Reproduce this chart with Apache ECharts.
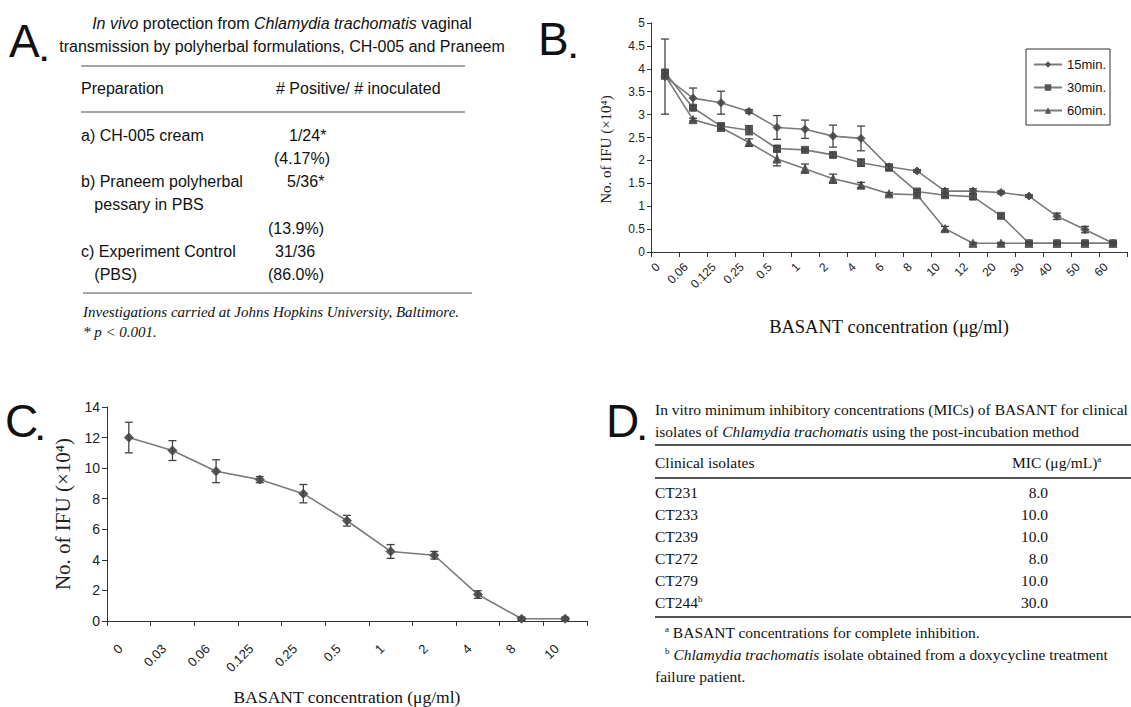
<!DOCTYPE html>
<html>
<head>
<meta charset="utf-8">
<script src="https://cdn.jsdelivr.net/npm/echarts@6/dist/echarts.min.js"></script>
<style>
html,body{margin:0;padding:0;background:#fff;}
#main{width:1131px;height:707px;}
</style>
</head>
<body>
<div id="main"></div>
<script>
// ---------- Panel B data ----------
const bCategories = ['0','0.06','0.125','0.25','0.5','1','2','4','6','8','10','12','20','30','40','50','60'];
const b15 = [3.83,3.36,3.26,3.07,2.72,2.68,2.53,2.48,1.86,1.77,1.33,1.33,1.30,1.22,0.78,0.49,0.19];
const b15err = [0.82,0.22,0.25,0.04,0.26,0.20,0.24,0.27,0.06,0.03,0.05,0.05,0.03,0.03,0.07,0.07,0.03];
const b30 = [3.92,3.15,2.75,2.66,2.26,2.23,2.12,1.95,1.84,1.32,1.24,1.21,0.79,0.19,0.19,0.19,0.19];
const b30err = [0.05,0.05,0.05,0.10,0.05,0.03,0.04,0.08,0.05,0.04,0.04,0.06,0.04,0.03,0.03,0.03,0.03];
const b60 = [3.86,2.89,2.72,2.39,2.03,1.82,1.60,1.46,1.27,1.25,0.51,0.19,0.19,0.19,0.19,0.19,0.19];
const b60err = [0.05,0.03,0.05,0.08,0.15,0.10,0.10,0.06,0.03,0.03,0.05,0.02,0.02,0.02,0.02,0.02,0.02];
const bSeriesNames = ['15min.','30min.','60min.'];

// ---------- Panel C data ----------
const cCategories = ['0','0.03','0.06','0.125','0.25','0.5','1','2','4','8','10'];
const cValues = [12.0,11.15,9.8,9.25,8.33,6.56,4.55,4.3,1.73,0.15,0.15];
const cErr = [1.0,0.65,0.75,0.2,0.6,0.35,0.45,0.25,0.25,0.1,0.1];

// ---------- Panel A table ----------
const aTitle = ['{i|In vivo} protection from {i|Chlamydia trachomatis} vaginal',
                'transmission by polyherbal formulations, CH-005 and Praneem'];
const aHeader = ['Preparation', '# Positive/ # inoculated'];
const aRowsLeft = ['a) CH-005 cream', '', 'b) Praneem polyherbal', '   pessary in PBS', '', 'c) Experiment Control', '   (PBS)'];
const aRowsRight = ['1/24*', '(4.17%)', '5/36*', '', '(13.9%)', '31/36', '(86.0%)'];
const aFoot = ['Investigations carried at Johns Hopkins University, Baltimore.', '* p < 0.001.'];

// ---------- Panel D table ----------
const dTitle = ['In vitro minimum inhibitory concentrations (MICs) of BASANT for clinical',
                'isolates of {i|Chlamydia trachomatis} using the post-incubation method'];
const dHeader = ['Clinical isolates', 'MIC (μg/mL){s|a}'];
const dIsolates = ['CT231','CT233','CT239','CT272','CT279','CT244{s|b}'];
const dMIC = ['8.0','10.0','10.0','8.0','10.0','30.0'];
const dFoot = ['{s|a} BASANT concentrations for complete inhibition.',
               '{s|b} {i|Chlamydia trachomatis} isolate obtained from a doxycycline treatment',
               'failure patient.'];

const SANS = '"Liberation Sans", Arial, sans-serif';
const SERIF = '"Liberation Serif", "Times New Roman", serif';
const LINE_COLOR = '#7a7a7a';
const MARK_COLOR = '#555';

const chart = echarts.init(document.getElementById('main'), null, {renderer: 'svg'});

function txt(x, y, text, o) {
  o = o || {};
  return {
    type: 'text', silent: true,
    style: {
      x: x, y: y, text: text,
      fontSize: o.size || 16, fontFamily: o.family || SANS,
      fontStyle: o.style || 'normal', fontWeight: o.weight || 'normal',
      fill: o.color || '#111',
      textAlign: o.align || 'left', textVerticalAlign: 'middle',
      rich: o.rich
    }
  };
}
function rule(x1, x2, y, w, c) {
  return {type: 'line', silent: true, shape: {x1: x1, y1: y, x2: x2, y2: y},
          style: {stroke: c || '#8a8a8a', lineWidth: w || 1.5}};
}

const graphics = [];
// Panel letters
graphics.push(txt(9, 41, 'A', {size: 46}));
graphics.push(txt(40, 50, '.', {size: 30, weight: 'bold'}));
graphics.push(txt(538, 39, 'B', {size: 46}));
graphics.push(txt(569, 47, '.', {size: 30, weight: 'bold'}));
graphics.push(txt(5, 421, 'C', {size: 46}));
graphics.push(txt(36, 429, '.', {size: 30, weight: 'bold'}));
graphics.push(txt(606, 421, 'D', {size: 46}));
graphics.push(txt(638, 429, '.', {size: 30, weight: 'bold'}));

// Panel A
const richItalSans = {i: {fontStyle: 'italic', fontSize: 16, fontFamily: SANS}};
graphics.push(txt(282, 23, aTitle[0], {align: 'center', rich: richItalSans}));
graphics.push(txt(282, 46, aTitle[1], {align: 'center'}));
graphics.push(rule(81, 465, 66));
graphics.push(txt(81, 88, aHeader[0]));
graphics.push(txt(276, 88, aHeader[1]));
graphics.push(rule(81, 465, 112));
const aRowY = [135, 158, 181, 204, 228, 251, 274];
const aRightX = [289, 274, 287, 0, 268, 275, 268];
aRowsLeft.forEach((s, i) => { if (s) graphics.push(txt(81, aRowY[i], s)); });
aRowsRight.forEach((s, i) => { if (s) graphics.push(txt(aRightX[i], aRowY[i], s)); });
graphics.push(rule(83, 472, 293));
graphics.push(txt(83, 312, aFoot[0], {family: SERIF, style: 'italic', size: 15}));
graphics.push(txt(83, 332, aFoot[1], {family: SERIF, style: 'italic', size: 15}));

// Panel D
const richSerif = {
  i: {fontStyle: 'italic', fontSize: 15.5, fontFamily: SERIF},
  s: {fontSize: 9, fontFamily: SERIF, verticalAlign: 'top', padding: [0, 0, 6, 0]}
};
graphics.push(txt(655, 409, dTitle[0], {family: SERIF, size: 15.5}));
graphics.push(txt(655, 431, dTitle[1], {family: SERIF, size: 15.5, rich: richSerif}));
graphics.push(rule(655, 1131, 445, 2, '#555'));
graphics.push(txt(655, 462, dHeader[0], {family: SERIF, size: 15.5}));
graphics.push(txt(1012, 462, dHeader[1], {family: SERIF, size: 15.5, rich: richSerif}));
graphics.push(rule(655, 1131, 478, 2, '#555'));
dIsolates.forEach((s, i) => {
  graphics.push(txt(655, 492 + i * 22, s, {family: SERIF, size: 15.5, rich: richSerif}));
  graphics.push(txt(1048, 492 + i * 22, dMIC[i], {family: SERIF, size: 15.5, align: 'right'}));
});
graphics.push(rule(655, 1131, 617, 2, '#555'));
graphics.push(txt(665, 632, dFoot[0], {family: SERIF, size: 15.5, rich: richSerif}));
graphics.push(txt(665, 654, dFoot[1], {family: SERIF, size: 15.5, rich: richSerif}));
graphics.push(txt(655, 676, dFoot[2], {family: SERIF, size: 15.5}));

// Error bar custom series
function errSeries(xIdx, yIdx, vals, errs) {
  return {
    type: 'custom', xAxisIndex: xIdx, yAxisIndex: yIdx, silent: true, z: 5,
    data: vals.map((v, i) => [i, v - errs[i], v + errs[i]]),
    renderItem: function (params, api) {
      const lo = api.coord([api.value(0), api.value(1)]);
      const hi = api.coord([api.value(0), api.value(2)]);
      const w = 4;
      const st = {stroke: '#444', lineWidth: 1.3};
      return {type: 'group', children: [
        {type: 'line', shape: {x1: lo[0], y1: lo[1], x2: hi[0], y2: hi[1]}, style: st},
        {type: 'line', shape: {x1: lo[0] - w, y1: lo[1], x2: lo[0] + w, y2: lo[1]}, style: st},
        {type: 'line', shape: {x1: hi[0] - w, y1: hi[1], x2: hi[0] + w, y2: hi[1]}, style: st}
      ]};
    }
  };
}

function lineSeries(name, xIdx, yIdx, data, symbol, size) {
  return {
    name: name, type: 'line', xAxisIndex: xIdx, yAxisIndex: yIdx, data: data,
    symbol: symbol, symbolSize: size, z: 4,
    lineStyle: {color: LINE_COLOR, width: 1.6},
    itemStyle: {color: MARK_COLOR, borderColor: MARK_COLOR},
    emphasis: {disabled: true}
  };
}

const axisLine = {show: true, lineStyle: {color: '#333', width: 1}};

const option = {
  animation: false,
  backgroundColor: '#fff',
  graphic: graphics,
  legend: {
    data: bSeriesNames,
    orient: 'vertical', left: 1026, top: 49,
    itemWidth: 28, itemHeight: 8, itemGap: 10,
    padding: [9, 4, 8, 7],
    borderColor: '#333', borderWidth: 1,
    textStyle: {fontSize: 13, fontFamily: SANS, color: '#111'},
    selectedMode: false
  },
  grid: [
    {left: 651, top: 23, width: 476, height: 229},
    {left: 107, top: 407, width: 480, height: 215}
  ],
  xAxis: [
    {gridIndex: 0, type: 'category', data: bCategories, boundaryGap: true,
     axisLine: axisLine, axisTick: {show: true, length: 5, lineStyle: {color: '#333'}},
     axisLabel: {rotate: 45, interval: 0, fontSize: 12, fontFamily: SANS, color: '#222',
                 margin: 6, padding: [0, 10, 0, 0]},
     name: 'BASANT concentration (μg/ml)', nameLocation: 'middle', nameGap: 65,
     nameTextStyle: {fontFamily: SERIF, fontSize: 18.5, color: '#111'}},
    {gridIndex: 1, type: 'category', data: cCategories, boundaryGap: true,
     axisLine: axisLine, axisTick: {show: true, length: 5, lineStyle: {color: '#333'}},
     axisLabel: {rotate: 45, interval: 0, fontSize: 13, fontFamily: SANS, color: '#222',
                 margin: 17, padding: [0, 12, 0, 0]},
     name: 'BASANT concentration (μg/ml)', nameLocation: 'middle', nameGap: 67,
     nameTextStyle: {fontFamily: SERIF, fontSize: 17.5, color: '#111'}}
  ],
  yAxis: [
    {gridIndex: 0, type: 'value', min: 0, max: 5, interval: 0.5,
     axisLine: axisLine, axisTick: {show: true, length: 4, lineStyle: {color: '#333'}},
     splitLine: {show: false},
     axisLabel: {fontSize: 12, fontFamily: SANS, color: '#222', margin: 6},
     name: 'No. of IFU (×10⁴)', nameLocation: 'middle', nameGap: 38, nameRotate: 90,
     nameTextStyle: {fontFamily: SERIF, fontSize: 15, color: '#222', padding: [0, 24, 0, 0]}},
    {gridIndex: 1, type: 'value', min: 0, max: 14, interval: 2,
     axisLine: axisLine, axisTick: {show: true, length: 5, lineStyle: {color: '#333'}},
     splitLine: {show: false},
     axisLabel: {fontSize: 14, fontFamily: SANS, color: '#222', margin: 7},
     name: 'No. of IFU (×10⁴)', nameLocation: 'middle', nameGap: 34, nameRotate: 90,
     nameTextStyle: {fontFamily: SERIF, fontSize: 21, color: '#222'}}
  ],
  series: [
    lineSeries(bSeriesNames[0], 0, 0, b15, 'diamond', 8),
    lineSeries(bSeriesNames[1], 0, 0, b30, 'rect', 7),
    lineSeries(bSeriesNames[2], 0, 0, b60, 'triangle', 8),
    errSeries(0, 0, b15, b15err),
    errSeries(0, 0, b30, b30err),
    errSeries(0, 0, b60, b60err),
    lineSeries('C', 1, 1, cValues, 'diamond', 9),
    errSeries(1, 1, cValues, cErr)
  ]
};
chart.setOption(option);
</script>
</body>
</html>
